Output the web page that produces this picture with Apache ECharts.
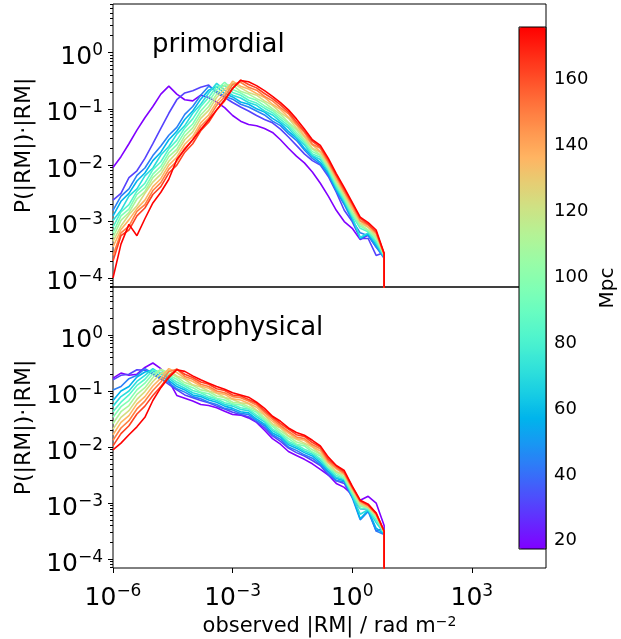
<!DOCTYPE html>
<html><head><meta charset="utf-8">
<script src="https://cdn.jsdelivr.net/npm/echarts@6/dist/echarts.min.js"></script>
<style>html,body{margin:0;padding:0;background:#fff}#c{width:621px;height:639px}</style>
</head><body><div id="c"></div>
<script>
// ---------------- data (log10 values) ----------------
const logRM = [-6.0,-5.8,-5.6,-5.4,-5.2,-5.0,-4.8,-4.6,-4.4,-4.2,-4.0,-3.8,-3.6,-3.4,-3.2,-3.0,-2.8,-2.6,-2.4,-2.2,-2.0,-1.8,-1.6,-1.4,-1.2,-1.0,-0.8,-0.6,-0.4,-0.2,0.0,0.2,0.4,0.6,0.8];
const distancesMpc = [17.5,30.7,43.9,57.1,70.3,83.5,96.7,109.9,123.1,136.3,149.5,162.7,175.9];
const emptyBin = 1e-12; // last bin beyond max |RM| is empty

const primordial = [
[-2.04,-1.85,-1.62,-1.38,-1.16,-0.96,-0.74,-0.6,-0.74,-0.84,-0.86,-0.76,-0.8,-0.88,-0.98,-1.12,-1.22,-1.28,-1.3,-1.35,-1.42,-1.55,-1.7,-1.84,-1.96,-2.12,-2.32,-2.55,-2.8,-3.0,-3.12,-3.32,-3.24,-3.45,-3.6],
[-2.62,-2.5,-2.22,-2.1,-1.88,-1.62,-1.35,-1.08,-0.84,-0.72,-0.68,-0.62,-0.58,-0.72,-0.8,-0.89,-0.97,-1.04,-1.12,-1.19,-1.25,-1.36,-1.5,-1.65,-1.8,-1.92,-2.0,-2.2,-2.48,-2.8,-3.0,-3.3,-3.3,-3.6,-3.55],
[-2.8,-2.55,-2.42,-2.18,-2.05,-1.83,-1.66,-1.47,-1.33,-1.1,-0.96,-0.76,-0.6,-0.69,-0.78,-0.83,-0.92,-0.97,-1.04,-1.11,-1.22,-1.3,-1.44,-1.56,-1.73,-1.88,-1.98,-2.17,-2.46,-2.7,-2.98,-3.2,-3.25,-3.45,-3.65],
[-2.9,-2.64,-2.5,-2.28,-2.14,-1.92,-1.77,-1.55,-1.4,-1.19,-1.04,-0.83,-0.67,-0.61,-0.73,-0.79,-0.88,-0.92,-1.0,-1.06,-1.17,-1.26,-1.4,-1.52,-1.7,-1.84,-1.95,-2.14,-2.43,-2.67,-2.95,-3.3,-3.22,-3.42,-3.62],
[-2.98,-2.8,-2.55,-2.42,-2.19,-2.05,-1.82,-1.67,-1.45,-1.3,-1.08,-0.92,-0.72,-0.55,-0.67,-0.76,-0.81,-0.89,-0.94,-1.04,-1.11,-1.23,-1.34,-1.5,-1.64,-1.83,-1.9,-2.11,-2.4,-2.64,-2.92,-3.28,-3.2,-3.38,-3.63],
[-3.1,-2.83,-2.7,-2.46,-2.32,-2.08,-1.94,-1.71,-1.56,-1.34,-1.18,-0.96,-0.8,-0.6,-0.59,-0.71,-0.76,-0.85,-0.9,-0.99,-1.07,-1.19,-1.3,-1.46,-1.6,-1.8,-1.86,-2.08,-2.37,-2.61,-2.89,-3.12,-3.18,-3.35,-3.6],
[-3.2,-2.9,-2.78,-2.52,-2.4,-2.16,-2.02,-1.78,-1.64,-1.41,-1.27,-1.04,-0.88,-0.66,-0.53,-0.66,-0.72,-0.8,-0.85,-0.95,-1.03,-1.15,-1.26,-1.42,-1.57,-1.76,-1.83,-2.06,-2.33,-2.58,-2.86,-3.08,-3.16,-3.3,-3.6],
[-3.28,-2.98,-2.84,-2.6,-2.47,-2.22,-2.09,-1.85,-1.72,-1.48,-1.34,-1.11,-0.96,-0.74,-0.58,-0.58,-0.69,-0.74,-0.82,-0.89,-1.0,-1.1,-1.24,-1.37,-1.55,-1.71,-1.82,-2.02,-2.31,-2.55,-2.83,-3.05,-3.15,-3.28,-3.6],
[-3.35,-3.08,-2.88,-2.72,-2.5,-2.3,-2.16,-1.93,-1.78,-1.55,-1.41,-1.17,-1.03,-0.8,-0.65,-0.54,-0.63,-0.71,-0.76,-0.86,-0.94,-1.07,-1.17,-1.34,-1.5,-1.7,-1.77,-2.01,-2.26,-2.53,-2.77,-3.03,-3.1,-3.26,-3.58],
[-3.45,-3.14,-2.97,-2.77,-2.62,-2.38,-2.24,-2.0,-1.86,-1.63,-1.49,-1.25,-1.11,-0.88,-0.73,-0.51,-0.6,-0.65,-0.73,-0.8,-0.92,-1.01,-1.15,-1.29,-1.48,-1.64,-1.76,-1.96,-2.25,-2.48,-2.76,-2.99,-3.1,-3.22,-3.58],
[-3.6,-3.2,-3.08,-2.82,-2.7,-2.45,-2.31,-2.07,-1.93,-1.7,-1.55,-1.31,-1.17,-0.94,-0.79,-0.57,-0.53,-0.62,-0.67,-0.78,-0.86,-0.98,-1.09,-1.27,-1.42,-1.63,-1.7,-1.95,-2.2,-2.47,-2.71,-2.98,-3.06,-3.2,-3.57],
[-3.7,-3.25,-3.15,-2.9,-2.76,-2.52,-2.38,-2.14,-2.0,-1.77,-1.62,-1.39,-1.24,-1.02,-0.86,-0.64,-0.49,-0.57,-0.63,-0.73,-0.82,-0.93,-1.06,-1.23,-1.4,-1.58,-1.68,-1.91,-2.18,-2.43,-2.68,-2.94,-3.05,-3.18,-3.57],
[-4.0,-3.4,-3.05,-3.25,-2.95,-2.67,-2.48,-2.25,-1.9,-1.72,-1.55,-1.37,-1.2,-1.02,-0.84,-0.64,-0.5,-0.52,-0.59,-0.68,-0.78,-0.89,-1.02,-1.18,-1.36,-1.55,-1.65,-1.88,-2.15,-2.4,-2.66,-2.92,-3.02,-3.15,-3.56]
];

const astrophysical = [
[-0.77,-0.68,-0.72,-0.7,-0.58,-0.5,-0.6,-0.82,-1.08,-1.13,-1.18,-1.24,-1.26,-1.3,-1.36,-1.42,-1.43,-1.48,-1.56,-1.7,-1.85,-1.95,-2.08,-2.15,-2.22,-2.3,-2.4,-2.5,-2.65,-2.72,-2.85,-2.95,-2.88,-3.0,-3.4],
[-0.8,-0.72,-0.7,-0.62,-0.63,-0.7,-0.78,-0.88,-0.98,-1.07,-1.12,-1.17,-1.21,-1.27,-1.32,-1.38,-1.42,-1.46,-1.55,-1.66,-1.8,-1.9,-2.02,-2.1,-2.16,-2.24,-2.33,-2.5,-2.6,-2.65,-2.9,-3.1,-3.12,-3.5,-3.45],
[-0.98,-0.92,-0.78,-0.72,-0.6,-0.68,-0.79,-0.85,-0.96,-1.02,-1.1,-1.14,-1.2,-1.24,-1.31,-1.34,-1.4,-1.42,-1.53,-1.62,-1.78,-1.86,-2.0,-2.06,-2.14,-2.2,-2.31,-2.46,-2.6,-2.62,-2.9,-3.3,-3.15,-3.5,-3.56],
[-1.17,-1.0,-0.92,-0.75,-0.66,-0.63,-0.75,-0.81,-0.92,-0.98,-1.07,-1.1,-1.16,-1.2,-1.27,-1.31,-1.37,-1.39,-1.5,-1.59,-1.75,-1.82,-1.96,-2.02,-2.1,-2.16,-2.28,-2.43,-2.56,-2.6,-2.87,-3.28,-3.13,-3.45,-3.55],
[-1.27,-1.1,-1.0,-0.83,-0.72,-0.6,-0.7,-0.77,-0.88,-0.95,-1.03,-1.07,-1.13,-1.17,-1.24,-1.27,-1.33,-1.35,-1.46,-1.55,-1.71,-1.79,-1.93,-1.99,-2.07,-2.13,-2.24,-2.4,-2.54,-2.58,-2.86,-3.2,-3.12,-3.35,-3.54],
[-1.37,-1.2,-1.07,-0.9,-0.79,-0.63,-0.67,-0.74,-0.84,-0.91,-0.99,-1.03,-1.1,-1.14,-1.21,-1.24,-1.3,-1.32,-1.43,-1.52,-1.68,-1.76,-1.9,-1.96,-2.04,-2.1,-2.21,-2.37,-2.51,-2.56,-2.84,-3.1,-3.11,-3.3,-3.53],
[-1.47,-1.28,-1.17,-0.98,-0.86,-0.69,-0.62,-0.72,-0.79,-0.89,-0.94,-1.02,-1.05,-1.13,-1.16,-1.23,-1.25,-1.31,-1.38,-1.51,-1.63,-1.75,-1.85,-1.95,-1.98,-2.09,-2.16,-2.36,-2.47,-2.56,-2.8,-3.06,-3.09,-3.25,-3.53],
[-1.58,-1.37,-1.26,-1.06,-0.94,-0.76,-0.61,-0.68,-0.75,-0.85,-0.9,-0.98,-1.01,-1.09,-1.12,-1.2,-1.22,-1.28,-1.35,-1.48,-1.6,-1.71,-1.81,-1.91,-1.95,-2.05,-2.13,-2.34,-2.44,-2.53,-2.78,-3.04,-3.08,-3.24,-3.52],
[-1.68,-1.47,-1.35,-1.15,-1.01,-0.83,-0.69,-0.63,-0.73,-0.79,-0.89,-0.93,-1.0,-1.04,-1.11,-1.15,-1.21,-1.23,-1.34,-1.43,-1.59,-1.66,-1.8,-1.86,-1.93,-2.0,-2.12,-2.29,-2.44,-2.49,-2.78,-3.01,-3.08,-3.22,-3.52],
[-1.78,-1.56,-1.44,-1.23,-1.1,-0.91,-0.77,-0.6,-0.67,-0.77,-0.83,-0.91,-0.95,-1.03,-1.06,-1.14,-1.16,-1.22,-1.29,-1.42,-1.54,-1.65,-1.75,-1.85,-1.88,-1.99,-2.07,-2.28,-2.39,-2.49,-2.74,-2.99,-3.07,-3.21,-3.51],
[-1.88,-1.66,-1.53,-1.32,-1.18,-0.99,-0.84,-0.65,-0.61,-0.74,-0.79,-0.88,-0.92,-1.0,-1.03,-1.1,-1.12,-1.18,-1.25,-1.38,-1.5,-1.62,-1.72,-1.82,-1.85,-1.96,-2.03,-2.25,-2.37,-2.47,-2.73,-2.97,-3.04,-3.2,-3.51],
[-1.98,-1.76,-1.62,-1.41,-1.27,-1.08,-0.92,-0.73,-0.61,-0.7,-0.76,-0.84,-0.88,-0.96,-0.99,-1.07,-1.09,-1.15,-1.22,-1.35,-1.47,-1.58,-1.68,-1.78,-1.81,-1.92,-2.0,-2.22,-2.34,-2.45,-2.71,-2.96,-3.04,-3.18,-3.5],
[-2.05,-1.93,-1.78,-1.64,-1.47,-1.17,-0.94,-0.76,-0.62,-0.65,-0.73,-0.8,-0.86,-0.92,-0.97,-1.03,-1.07,-1.11,-1.2,-1.31,-1.45,-1.54,-1.66,-1.74,-1.79,-1.88,-1.98,-2.18,-2.33,-2.42,-2.7,-2.95,-3.02,-3.18,-3.5]
];

const xTicks = [1e-6, 1e-3, 1, 1e3];
const yTicks = [1e-4, 1e-3, 1e-2, 1e-1, 1];
const cbTicks = [20, 40, 60, 80, 100, 120, 140, 160];
const panelTitles = ['primordial', 'astrophysical'];

// ---------------- chart ----------------
const FONT = 'DejaVu Sans';
const XMIN = 1e-6, XMAX = Math.pow(10, 4.86);
const YMIN = Math.pow(10, -4.16), YMAX = Math.pow(10, 0.857);
const dMin = distancesMpc[0], dMax = distancesMpc[distancesMpc.length - 1];

function rainbow(t) {
  const r = Math.min(1, Math.abs(2 * t - 0.5));
  const g = Math.sin(Math.PI * t);
  const b = Math.cos(Math.PI * t / 2);
  const c = v => Math.round(Math.max(0, Math.min(1, v)) * 255);
  return 'rgb(' + c(r) + ',' + c(g) + ',' + c(b) + ')';
}
const cbStops = [];
for (let s = 0; s <= 20; s++) cbStops.push(rainbow(s / 20));

const yMinor = [];
for (let e = -5; e <= 0; e++) for (let m = 2; m <= 9; m++) {
  const v = m * Math.pow(10, e);
  if (v > YMIN && v < YMAX) yMinor.push(v);
}

function supTxt(e) { return e < 0 ? '\u2212' + (-e) : String(e); }
function powLabel(v) {
  const e = Math.round(Math.log10(v));
  return '{b|10}{s|' + supTxt(e) + '}';
}
const powRich = {
  b: { fontSize: 25, fontFamily: FONT, color: '#000', lineHeight: 30 },
  s: { fontSize: 17, fontFamily: FONT, color: '#000', lineHeight: 18, verticalAlign: 'top' }
};

const series = [];
[primordial, astrophysical].forEach((panel, p) => {
  panel.forEach((vals, i) => {
    const col = rainbow((distancesMpc[i] - dMin) / (dMax - dMin));
    const data = logRM.map((lx, k) => [Math.pow(10, lx), Math.pow(10, vals[k])]);
    data.push([Math.pow(10, logRM[logRM.length - 1]), emptyBin]);
    series.push({
      type: 'line', xAxisIndex: p, yAxisIndex: p * 2, data: data,
      showSymbol: false, symbol: 'none', silent: true, clip: true,
      lineStyle: { width: 1.6, color: col }, itemStyle: { color: col },
      z: 2
    });
  });
});
series.push({ type: 'scatter', xAxisIndex: 2, yAxisIndex: 4, data: [] });
const dummyIndex = series.length - 1;

function mainY(grid) {
  return {
    type: 'log', gridIndex: grid, position: 'left', min: YMIN, max: YMAX,
    axisLine: { show: false }, splitLine: { show: false }, minorTick: { show: false },
    axisTick: { show: true, customValues: yTicks, length: 5, lineStyle: { color: '#000', width: 1 } },
    axisLabel: { customValues: yTicks, formatter: powLabel, rich: powRich, margin: 10, padding: [10, 0, 0, 0] },
    name: 'P(|RM|)\u00b7|RM|', nameLocation: 'middle', nameRotate: 90, nameGap: 64,
    nameTextStyle: { fontSize: 22, fontFamily: FONT, color: '#000' }
  };
}
function minorY(grid) {
  return {
    type: 'log', gridIndex: grid, position: 'left', min: YMIN, max: YMAX,
    axisLine: { show: false }, splitLine: { show: false }, axisLabel: { show: false },
    axisTick: { show: true, customValues: yMinor, length: 3, lineStyle: { color: '#000', width: 1 } }
  };
}

const option = {
  animation: false,
  backgroundColor: '#fff',
  title: [
    { text: panelTitles[0], left: 152, top: 32, padding: 0,
      textStyle: { fontSize: 26, fontWeight: 'normal', fontFamily: FONT, color: '#000' } },
    { text: panelTitles[1], left: 151, top: 315, padding: 0,
      textStyle: { fontSize: 26, fontWeight: 'normal', fontFamily: FONT, color: '#000' } }
  ],
  grid: [
    { left: 113, top: 4, width: 433, height: 283, show: true, borderColor: '#000', borderWidth: 1, backgroundColor: 'transparent', outerBoundsMode: 'none' },
    { left: 113, top: 287, width: 433, height: 281, show: true, borderColor: '#000', borderWidth: 1, backgroundColor: 'transparent', outerBoundsMode: 'none' },
    { left: 519, top: 27, width: 27, height: 522, show: true, borderColor: '#000', borderWidth: 1, backgroundColor: 'transparent', z: 10, outerBoundsMode: 'none' }
  ],
  xAxis: [
    { type: 'log', gridIndex: 0, min: XMIN, max: XMAX, axisLine: { show: false }, axisTick: { show: false },
      axisLabel: { show: false }, splitLine: { show: false } },
    { type: 'log', gridIndex: 1, min: XMIN, max: XMAX, axisLine: { show: false }, splitLine: { show: false },
      axisTick: { show: true, customValues: xTicks, length: 5, lineStyle: { color: '#000', width: 1 } },
      axisLabel: { customValues: xTicks, formatter: powLabel, rich: powRich, margin: 15 },
      name: '{n|observed |RM| / rad m}{e|\u22122}', nameLocation: 'middle', nameGap: 47,
      nameTextStyle: { rich: {
        n: { fontSize: 21, fontFamily: FONT, color: '#000', lineHeight: 24 },
        e: { fontSize: 14, fontFamily: FONT, color: '#000', lineHeight: 14, verticalAlign: 'top' } } } },
    { type: 'value', gridIndex: 2, min: 0, max: 1, show: false }
  ],
  yAxis: [
    mainY(0), minorY(0), mainY(1), minorY(1),
    { type: 'value', gridIndex: 2, position: 'right', min: dMin, max: dMax,
      axisLine: { show: false }, splitLine: { show: false },
      axisTick: { show: true, customValues: cbTicks, length: 5, lineStyle: { color: '#000', width: 1 } },
      axisLabel: { customValues: cbTicks, fontSize: 18, fontFamily: FONT, color: '#000', margin: 8 },
      name: 'Mpc', nameLocation: 'middle', nameRotate: 90, nameGap: 52,
      nameTextStyle: { fontSize: 20, fontFamily: FONT, color: '#000' } }
  ],
  visualMap: {
    type: 'continuous', seriesIndex: dummyIndex, min: dMin, max: dMax,
    left: 519, top: 27, itemWidth: 27, itemHeight: 522, padding: 0,
    calculable: false, hoverLink: false, realtime: false, orient: 'vertical',
    inRange: { color: cbStops }, z: 4
  },
  series: series
};

const chart = echarts.init(document.getElementById('c'));
chart.setOption(option);
</script>
</body></html>
